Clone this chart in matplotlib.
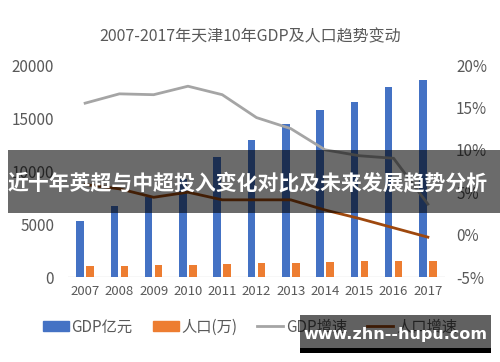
import matplotlib
matplotlib.use("Agg")
import matplotlib.pyplot as plt
from matplotlib.patches import Rectangle
from matplotlib.lines import Line2D
from matplotlib.patches import Patch
import numpy as np

plt.rcParams['font.family'] = ['Noto Sans CJK SC', 'DejaVu Sans']

years = ['2007', '2008', '2009', '2010', '2011', '2012', '2013', '2014', '2015', '2016', '2017']
gdp = [5252, 6719, 7521, 9224, 11307, 12894, 14442, 15727, 16538, 17885, 18549]
population = [1000, 1050, 1100, 1150, 1200, 1300, 1350, 1430, 1490, 1500, 1510]
gdp_growth = [15.5, 16.6, 16.5, 17.5, 16.5, 13.8, 12.5, 10.0, 9.3, 9.0, 3.6]
pop_growth = [5.9, 5.4, 4.4, 5.0, 4.1, 4.1, 4.1, 2.9, 1.9, 0.8, -0.3]

title = '2007-2017年天津10年GDP及人口趋势变动'
legend_labels = ['GDP亿元', '人口(万)', 'GDP增速', '人口增速']
banner_text = '近十年英超与中超投入变化对比及未来发展趋势分析'
watermark = 'www.zhn--hupu.com'

c_blue = '#4472C4'
c_orange = '#ED7D31'
c_gray = '#A5A5A5'
c_brown = '#9E480E'
c_text = '#595959'

fig = plt.figure(figsize=(5.0, 3.62), dpi=100)
ax = fig.add_axes([0.136, 0.2348, 0.754, 0.5856])
ax2 = ax.twinx()

x = np.arange(len(years))
w = 0.22
ax.bar(x - 0.145, gdp, width=w, color=c_blue, zorder=2)
ax.bar(x + 0.145, population, width=w, color=c_orange, zorder=2)
ax.set_ylim(0, 20000)
ax.set_yticks([0, 5000, 10000, 15000, 20000])
ax.set_xlim(-0.5, 10.5)
ax.set_xticks(x)
ax.set_xticklabels(years)

ax2.plot(x, gdp_growth, color=c_gray, lw=2.0, zorder=3)
ax2.plot(x, pop_growth, color=c_brown, lw=2.0, zorder=3)
ax2.set_ylim(-5, 20)
ax2.set_yticks([-5, 0, 5, 10, 15, 20])
ax2.set_yticklabels([f'{v}%' for v in [-5, 0, 5, 10, 15, 20]])

for a in (ax, ax2):
    for s in a.spines.values():
        s.set_visible(False)
    a.tick_params(length=0, colors=c_text)
ax.tick_params(axis='y', labelsize=11, pad=10)
ax.tick_params(axis='x', labelsize=9.5, pad=6)
ax2.tick_params(axis='y', labelsize=11, pad=8)
ax.axhline(0, color='#D9D9D9', lw=1, zorder=1)

fig.text(0.5, 0.898, title, ha='center', va='center', fontsize=11.5, color=c_text)

handles = [Patch(color=c_blue), Patch(color=c_orange),
           Line2D([], [], color=c_gray, lw=2), Line2D([], [], color=c_brown, lw=2)]
fig.legend(handles, legend_labels, loc='center', bbox_to_anchor=(0.5, 0.097), ncol=4,
           frameon=False, fontsize=11, labelcolor=c_text, handlelength=1.7,
           handleheight=0.6, handletextpad=0.2, columnspacing=1.3)

# banner overlay
fig.patches.append(Rectangle((8/500, 1-213/362), 492/500, 63/362, transform=fig.transFigure,
                             facecolor='black', alpha=0.58, edgecolor='none', zorder=10))
fig.text(8/500, 1-183/362, banner_text, ha='left', va='center', fontsize=15,
         fontweight='bold', color='white', zorder=11)

# watermark
fig.patches.append(Rectangle((300/500, 1-353/362), 191/500, 38/362, transform=fig.transFigure,
                             facecolor='black', alpha=0.62, edgecolor='none', zorder=10))
fig.patches.append(Rectangle((300/500, 1-353/362), 191/500, 5/362, transform=fig.transFigure,
                             facecolor='black', edgecolor='none', zorder=10))
fig.text(395/500, 1-334/362, watermark, ha='center', va='center', fontsize=11.5,
         fontweight='bold', color='white', family=['DejaVu Sans'], zorder=11)

fig.savefig('out.png', dpi=100)
